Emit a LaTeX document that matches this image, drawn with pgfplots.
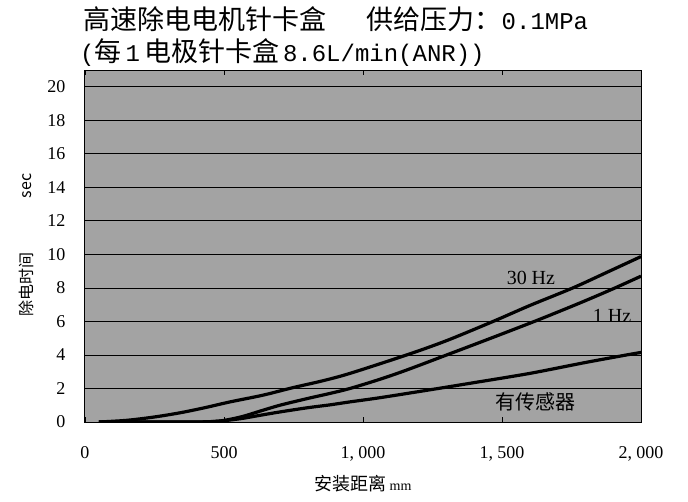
\documentclass[border=0pt]{standalone}
\usepackage{pgfplots}
\pgfplotsset{compat=1.18}
\usepackage{fontspec}
\setmainfont{Liberation Serif}
\newfontfamily\cjk{Noto Sans CJK SC}
\newfontfamily\mono{Liberation Mono}

\begin{document}
\begin{tikzpicture}
\path[use as bounding box] (-85pt,-79pt) rectangle (603pt,422pt);
\begin{axis}[
    at={(0,0)}, anchor=south west,
    scale only axis,
    width=556pt, height=352pt,
    xmin=0, xmax=2000, ymin=0, ymax=21,
    xtick={0,500,1000,1500,2000},
    xticklabels={0,500,{1, 000},{1, 500},{2, 000}},
    ytick={0,2,...,20},
    tick align=inside,
    major tick length=5pt,
    ytick style={draw=none},
    xtick style={black, line width=0.6pt},
    ymajorgrids=true,
    grid style={black, line width=0.8pt},
    axis line style={black, line width=1pt},
    axis background/.style={fill=black!36},
    /pgf/number format/assume math mode=true,
    tick label style={font=\fontsize{18}{18}\selectfont},
    yticklabel style={xshift=-16pt},
    xticklabel style={yshift=-21pt},
]
\addplot[black, line width=3.2pt, smooth] coordinates {
    (50,0) (150,0.1) (250,0.3) (342,0.55) (430,0.85) (522,1.2) (640,1.6)
    (748,2.05) (853,2.45) (953,2.9) (1157,4.0) (1300,4.85)
    (1468,6.0) (1600,6.95) (1755,8.0) (1880,8.95) (2000,9.87)
};
\addplot[black, line width=3.2pt, smooth] coordinates {
    (50,0) (380,0) (480,0.05) (560,0.3) (630,0.65) (701,1.0) (800,1.4)
    (880,1.7) (953,2.0) (1061,2.55) (1157,3.1) (1301,4.0) (1460,5.0)
    (1624,6.05) (1780,7.1) (1900,7.95) (2000,8.7)
};
\addplot[black, line width=3.2pt, smooth] coordinates {
    (50,0) (380,0) (480,0.05) (560,0.2) (630,0.4) (701,0.6) (800,0.85)
    (880,1.02) (953,1.2) (1061,1.45) (1248,1.94) (1400,2.35) (1600,2.9)
    (1800,3.55) (1948,4.0) (2000,4.15)
};
\node[font=\fontsize{20}{20}\selectfont] at (axis cs:1604,8.62) {30 Hz};
\node[font=\fontsize{20}{20}\selectfont] at (axis cs:1896,6.34) {1 Hz};
\node[font=\fontsize{20}{20}\selectfont\cjk] at (axis cs:1622,1.18) {有传感器};
\end{axis}
% titles and axis labels
\node[anchor=base west, inner sep=0pt, font=\fontsize{27}{27}\selectfont]
    at (-2pt,392pt) {{\cjk 高速除电电机针卡盒\hspace{1.5em}供给压力：}{\mono\fontsize{24}{24}\selectfont 0.1MPa}};
\node[anchor=base west, inner sep=0pt, font=\fontsize{27}{27}\selectfont]
    at (-5pt,360pt) {{\mono\fontsize{24}{24}\selectfont(}{\cjk 每}{\mono\fontsize{24}{24}\selectfont\,1\,}{\cjk 电极针卡盒}{\mono\fontsize{24}{24}\selectfont\,8.6L/min(ANR))}};
\node[font=\fontsize{18}{18}\selectfont] at (278pt,-62pt) {{\cjk 安装距离}\,{\fontsize{14}{14}\selectfont mm}};
\node[rotate=90, font=\fontsize{16}{16}\selectfont\cjk] at (-59pt,138pt) {除电时间};
\node[rotate=90, font=\fontsize{16}{16}\selectfont\cjk] at (-58pt,236pt) {sec};
\end{tikzpicture}
\end{document}
